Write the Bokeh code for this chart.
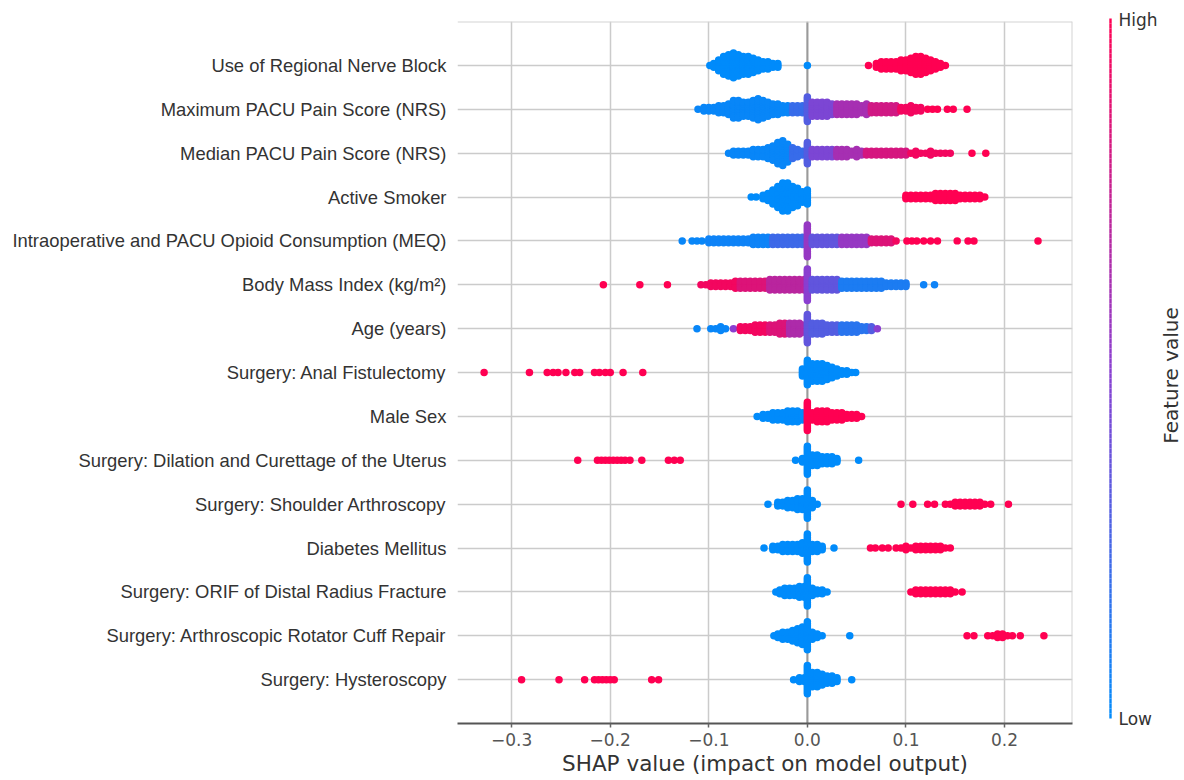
import numpy as np
from bokeh.plotting import figure
from bokeh.models import Range1d, FixedTicker, Span, CustomJSTickFormatter, ColumnDataSource, Label
from bokeh.layouts import row
from bokeh.embed import file_html
from bokeh.resources import INLINE

# ---------------- data ----------------
features = [
    "Use of Regional Nerve Block",
    "Maximum PACU Pain Score (NRS)",
    "Median PACU Pain Score (NRS)",
    "Active Smoker",
    "Intraoperative and PACU Opioid Consumption (MEQ)",
    "Body Mass Index (kg/m\u00b2)",
    "Age (years)",
    "Surgery: Anal Fistulectomy",
    "Male Sex",
    "Surgery: Dilation and Curettage of the Uterus",
    "Surgery: Shoulder Arthroscopy",
    "Diabetes Mellitus",
    "Surgery: ORIF of Distal Radius Fracture",
    "Surgery: Arthroscopic Rotator Cuff Repair",
    "Surgery: Hysteroscopy",
]
x_ticks = [-0.3, -0.2, -0.1, 0.0, 0.1, 0.2]
cbar_labels = ["Low", "High"]

# binned SHAP values: bin centre, number of points in the bin, feature value (0 low .. 1 high)
nerve_low_shap = [-0.099, -0.095, -0.090, -0.085, -0.080, -0.075, -0.070, -0.065, -0.060, -0.055,
                  -0.050, -0.045, -0.040, -0.035, -0.030, 0.000]
nerve_low_count = [1, 3, 7, 11, 13, 15, 13, 11, 11, 9, 7, 5, 5, 3, 3, 1]
nerve_high_shap = [0.062, 0.070, 0.075, 0.080, 0.085, 0.090, 0.095, 0.100, 0.105, 0.110,
                   0.115, 0.120, 0.125, 0.130, 0.135, 0.140]
nerve_high_count = [1, 3, 5, 5, 5, 5, 7, 7, 9, 11, 11, 9, 7, 5, 3, 1]

maxpain_shap = [-0.111, -0.105, -0.100, -0.095, -0.090, -0.085, -0.080, -0.075, -0.070, -0.065,
                -0.060, -0.055, -0.050, -0.045, -0.040, -0.035, -0.030, -0.025, -0.020, -0.015,
                -0.010, -0.005, 0.000, 0.005, 0.010, 0.015, 0.020, 0.025, 0.030, 0.035,
                0.040, 0.045, 0.050, 0.055, 0.060, 0.065, 0.070, 0.075, 0.080, 0.085,
                0.090, 0.095, 0.100, 0.105, 0.110, 0.115, 0.122, 0.127, 0.132, 0.142,
                0.148, 0.162]
maxpain_count = [1, 3, 3, 3, 5, 5, 7, 11, 11, 9,
                 9, 11, 13, 11, 9, 7, 7, 5, 5, 5,
                 5, 5, 15, 9, 9, 9, 9, 7, 7, 7,
                 7, 7, 7, 5, 7, 5, 5, 5, 5, 5,
                 5, 3, 3, 5, 3, 3, 1, 1, 1, 1,
                 1, 1]
maxpain_value = [0.03, 0.03, 0.03, 0.03, 0.03, 0.03, 0.03, 0.03, 0.03, 0.03,
                 0.03, 0.03, 0.03, 0.03, 0.03, 0.03, 0.03, 0.03, 0.03, 0.2,
                 0.2, 0.2, 0.3, 0.45, 0.45, 0.45, 0.45, 0.45, 0.62, 0.62,
                 0.62, 0.62, 0.62, 0.62, 0.62, 0.8, 0.8, 0.8, 0.8, 0.8,
                 0.8, 0.95, 0.95, 0.95, 0.95, 0.95, 1.0, 1.0, 1.0, 1.0,
                 1.0, 1.0]

medpain_shap = [-0.080, -0.075, -0.070, -0.065, -0.060, -0.055, -0.050, -0.045, -0.040, -0.035,
                -0.030, -0.025, -0.020, -0.015, -0.010, -0.005, 0.000, 0.005, 0.010, 0.015,
                0.020, 0.025, 0.030, 0.035, 0.040, 0.045, 0.050, 0.055, 0.060, 0.065,
                0.070, 0.075, 0.080, 0.085, 0.090, 0.095, 0.100, 0.105, 0.110, 0.115,
                0.120, 0.125, 0.130, 0.135, 0.140, 0.145, 0.167, 0.181]
medpain_count = [1, 3, 3, 3, 3, 5, 5, 5, 7, 9,
                 13, 15, 11, 7, 5, 3, 13, 5, 5, 5,
                 5, 5, 5, 5, 5, 3, 5, 3, 3, 3,
                 3, 3, 3, 3, 3, 3, 3, 1, 3, 1,
                 1, 3, 1, 1, 1, 1, 1, 1]
medpain_value = [0.03, 0.03, 0.03, 0.03, 0.03, 0.03, 0.03, 0.03, 0.03, 0.03,
                 0.03, 0.03, 0.03, 0.2, 0.2, 0.2, 0.3, 0.45, 0.45, 0.45,
                 0.45, 0.45, 0.62, 0.62, 0.62, 0.62, 0.62, 0.62, 0.82, 0.82,
                 0.82, 0.82, 0.82, 0.82, 0.82, 0.82, 0.82, 0.95, 0.95, 0.95,
                 0.95, 0.95, 0.95, 0.95, 0.95, 0.95, 1.0, 1.0]

smoker_low_shap = [-0.057, -0.052, -0.045, -0.040, -0.035, -0.030, -0.025, -0.020, -0.015, -0.010,
                   -0.005, 0.000]
smoker_low_count = [1, 1, 3, 5, 9, 13, 17, 17, 13, 11, 7, 9]
smoker_high_shap = [0.100, 0.105, 0.110, 0.115, 0.120, 0.125, 0.130, 0.135, 0.140, 0.145,
                    0.150, 0.155, 0.160, 0.165, 0.170, 0.175, 0.180]
smoker_high_count = [3, 3, 3, 3, 3, 3, 5, 5, 5, 5, 5, 3, 3, 3, 3, 3, 1]

opioid_shap = [-0.127, -0.117, -0.112, -0.107, -0.100, -0.095, -0.090, -0.085, -0.080, -0.075,
               -0.070, -0.065, -0.060, -0.055, -0.050, -0.045, -0.040, -0.035, -0.030, -0.025,
               -0.020, -0.015, -0.010, -0.005, 0.000, 0.005, 0.010, 0.015, 0.020, 0.025,
               0.030, 0.035, 0.040, 0.045, 0.050, 0.055, 0.060, 0.065, 0.070, 0.075,
               0.080, 0.085, 0.090, 0.101, 0.106, 0.111, 0.118, 0.125, 0.132, 0.152,
               0.163, 0.169, 0.234]
opioid_count = [1, 1, 1, 1, 3, 3, 3, 3, 3, 3,
                3, 3, 3, 5, 5, 5, 5, 5, 5, 5,
                5, 5, 5, 5, 19, 5, 5, 5, 5, 5,
                5, 5, 5, 5, 5, 5, 5, 3, 3, 3,
                3, 3, 1, 1, 1, 1, 1, 1, 1, 1,
                1, 1, 1]
opioid_value = [0.03, 0.03, 0.03, 0.03, 0.05, 0.05, 0.05, 0.05, 0.05, 0.05,
                0.05, 0.05, 0.05, 0.05, 0.05, 0.05, 0.05, 0.22, 0.22, 0.22,
                0.22, 0.22, 0.22, 0.22, 0.55, 0.35, 0.35, 0.35, 0.35, 0.35,
                0.35, 0.55, 0.55, 0.55, 0.55, 0.55, 0.55, 0.85, 0.85, 0.85,
                0.85, 0.85, 0.95, 1.0, 1.0, 1.0, 1.0, 1.0, 1.0, 1.0,
                1.0, 1.0, 1.0]

bmi_shap = [-0.207, -0.170, -0.142, -0.108, -0.103, -0.098, -0.093, -0.088, -0.083, -0.078,
            -0.073, -0.068, -0.063, -0.058, -0.053, -0.048, -0.043, -0.038, -0.033, -0.028,
            -0.023, -0.018, -0.013, -0.008, -0.003, 0.000, 0.005, 0.010, 0.015, 0.020,
            0.025, 0.030, 0.035, 0.040, 0.045, 0.050, 0.055, 0.060, 0.065, 0.070,
            0.075, 0.080, 0.085, 0.090, 0.095, 0.100, 0.118, 0.129]
bmi_count = [1, 1, 1, 1, 1, 3, 3, 3, 3, 3,
             5, 5, 5, 5, 5, 5, 5, 7, 7, 7,
             7, 7, 7, 7, 7, 19, 7, 7, 7, 7,
             7, 7, 5, 5, 5, 5, 5, 5, 5, 5,
             5, 3, 3, 3, 3, 3, 1, 1]
bmi_value = [1.0, 1.0, 1.0, 0.95, 0.95, 0.95, 0.95, 0.95, 0.95, 0.95,
             0.95, 0.85, 0.85, 0.85, 0.85, 0.85, 0.85, 0.7, 0.7, 0.7,
             0.7, 0.7, 0.7, 0.7, 0.7, 0.5, 0.35, 0.35, 0.35, 0.35,
             0.35, 0.35, 0.1, 0.1, 0.1, 0.1, 0.1, 0.1, 0.1, 0.1,
             0.1, 0.1, 0.1, 0.1, 0.1, 0.1, 0.05, 0.05]

age_shap = [-0.112, -0.098, -0.093, -0.088, -0.083, -0.075, -0.068, -0.063, -0.058, -0.053,
            -0.048, -0.043, -0.038, -0.033, -0.028, -0.023, -0.018, -0.013, -0.008, -0.003,
            0.000, 0.005, 0.010, 0.015, 0.020, 0.025, 0.030, 0.035, 0.040, 0.045,
            0.050, 0.055, 0.060, 0.065, 0.071]
age_count = [1, 1, 1, 3, 1, 1, 3, 3, 3, 5,
             5, 5, 5, 5, 7, 7, 7, 7, 7, 5,
             17, 7, 7, 7, 5, 5, 5, 5, 5, 5,
             5, 3, 3, 3, 1]
age_value = [0.03, 0.03, 0.03, 0.03, 0.03, 0.5, 0.95, 0.95, 0.95, 0.95,
             0.95, 0.95, 0.85, 0.85, 0.85, 0.85, 0.65, 0.65, 0.65, 0.65,
             0.35, 0.3, 0.3, 0.3, 0.3, 0.3, 0.3, 0.15, 0.15, 0.15,
             0.15, 0.15, 0.15, 0.3, 0.5]

fistula_low_shap = [-0.005, 0.000, 0.005, 0.010, 0.015, 0.020, 0.025, 0.030, 0.035, 0.040,
                    0.045, 0.049]
fistula_low_count = [5, 15, 11, 11, 11, 9, 7, 5, 3, 3, 1, 1]
fistula_high_shap = [-0.328, -0.282, -0.264, -0.258, -0.253, -0.245, -0.236, -0.231, -0.216, -0.211,
                     -0.205, -0.200, -0.187, -0.167]
fistula_high_count = [1, 1, 1, 1, 1, 1, 1, 1, 1, 1, 1, 1, 1, 1]

male_low_shap = [-0.051, -0.045, -0.040, -0.035, -0.030, -0.025, -0.020, -0.015, -0.010, -0.005]
male_low_count = [1, 3, 3, 5, 5, 5, 7, 7, 7, 5]
male_high_shap = [0.000, 0.005, 0.010, 0.015, 0.020, 0.025, 0.030, 0.035, 0.040, 0.045,
                  0.050, 0.055]
male_high_count = [17, 5, 7, 7, 7, 5, 5, 5, 3, 3, 3, 1]

dc_low_shap = [-0.012, -0.005, 0.000, 0.005, 0.010, 0.015, 0.020, 0.025, 0.030, 0.052]
dc_low_count = [1, 3, 17, 7, 7, 5, 5, 5, 3, 1]
dc_high_shap = [-0.233, -0.213, -0.209, -0.205, -0.201, -0.197, -0.193, -0.189, -0.185, -0.180,
                -0.168, -0.141, -0.135, -0.129]
dc_high_count = [1, 1, 1, 1, 1, 1, 1, 1, 1, 1, 1, 1, 1, 1]

shoulder_low_shap = [-0.040, -0.030, -0.025, -0.020, -0.015, -0.010, -0.005, 0.000, 0.005, 0.010]
shoulder_low_count = [1, 3, 3, 5, 5, 7, 7, 17, 5, 1]
shoulder_high_shap = [0.095, 0.107, 0.122, 0.129, 0.140, 0.145, 0.150, 0.155, 0.160, 0.165,
                      0.170, 0.175, 0.180, 0.186, 0.204]
shoulder_high_count = [1, 1, 1, 1, 1, 1, 3, 3, 3, 3, 3, 3, 1, 1, 1]

diabetes_low_shap = [-0.044, -0.035, -0.030, -0.025, -0.020, -0.015, -0.010, -0.005, 0.000, 0.005,
                     0.010, 0.015, 0.027]
diabetes_low_count = [1, 3, 3, 5, 5, 5, 5, 7, 17, 5, 5, 3, 1]
diabetes_high_shap = [0.064, 0.069, 0.076, 0.082, 0.090, 0.095, 0.100, 0.105, 0.110, 0.115,
                      0.120, 0.125, 0.130, 0.135, 0.140, 0.145]
diabetes_high_count = [1, 1, 1, 1, 1, 1, 3, 1, 3, 3, 3, 3, 3, 3, 1, 1]

orif_low_shap = [-0.032, -0.028, -0.023, -0.018, -0.013, -0.008, -0.003, 0.000, 0.005, 0.010,
                 0.015, 0.020]
orif_low_count = [1, 3, 5, 5, 5, 7, 7, 17, 5, 3, 3, 1]
orif_high_shap = [0.105, 0.110, 0.115, 0.120, 0.125, 0.130, 0.135, 0.140, 0.145, 0.150, 0.157]
orif_high_count = [1, 3, 3, 3, 3, 3, 3, 3, 3, 1, 1]

cuff_low_shap = [-0.034, -0.030, -0.025, -0.020, -0.015, -0.010, -0.005, 0.000, 0.005, 0.010,
                 0.015, 0.043]
cuff_low_count = [1, 3, 5, 5, 7, 9, 11, 17, 5, 3, 1, 1]
cuff_high_shap = [0.162, 0.169, 0.183, 0.188, 0.193, 0.198, 0.203, 0.208, 0.216, 0.240]
cuff_high_count = [1, 1, 1, 1, 3, 3, 1, 1, 1, 1]

hyst_low_shap = [-0.014, -0.008, -0.003, 0.000, 0.005, 0.010, 0.015, 0.020, 0.025, 0.030, 0.045]
hyst_low_count = [1, 3, 3, 17, 9, 9, 7, 5, 5, 3, 1]
hyst_high_shap = [-0.290, -0.252, -0.226, -0.216, -0.212, -0.208, -0.204, -0.200, -0.196, -0.158,
                  -0.151]
hyst_high_count = [1, 1, 1, 1, 1, 1, 1, 1, 1, 1, 1]

# ---------------- colours ----------------
BLUE = (0, 139, 251)
PURPLE = (138, 62, 208)
RED = (255, 0, 82)


def shap_color(v):
    if v <= 0.5:
        a, b, t = BLUE, PURPLE, v / 0.5
    else:
        a, b, t = PURPLE, RED, (v - 0.5) / 0.5
    r, g, bb = (int(round(a[k] + (b[k] - a[k]) * t)) for k in range(3))
    return "#%02x%02x%02x" % (r, g, bb)


# ---------------- beeswarm layout ----------------
STEP = 0.04  # vertical spacing of stacked points, in row units
xs, ys, cols = [], [], []


def add(i, shap, count, vals):
    base = len(features) - 1 - i
    for s, n, v in zip(shap, count, vals):
        for j in range(n):
            k = (j + 1) // 2 * (1 if j % 2 else -1)
            xs.append(s)
            ys.append(base + k * STEP)
            cols.append(shap_color(v))


def add_binary(i, low_shap, low_count, high_shap, high_count):
    add(i, low_shap, low_count, [0.0] * len(low_shap))
    add(i, high_shap, high_count, [1.0] * len(high_shap))


add_binary(0, nerve_low_shap, nerve_low_count, nerve_high_shap, nerve_high_count)
add(1, maxpain_shap, maxpain_count, maxpain_value)
add(2, medpain_shap, medpain_count, medpain_value)
add_binary(3, smoker_low_shap, smoker_low_count, smoker_high_shap, smoker_high_count)
add(4, opioid_shap, opioid_count, opioid_value)
add(5, bmi_shap, bmi_count, bmi_value)
add(6, age_shap, age_count, age_value)
add_binary(7, fistula_low_shap, fistula_low_count, fistula_high_shap, fistula_high_count)
add_binary(8, male_low_shap, male_low_count, male_high_shap, male_high_count)
add_binary(9, dc_low_shap, dc_low_count, dc_high_shap, dc_high_count)
add_binary(10, shoulder_low_shap, shoulder_low_count, shoulder_high_shap, shoulder_high_count)
add_binary(11, diabetes_low_shap, diabetes_low_count, diabetes_high_shap, diabetes_high_count)
add_binary(12, orif_low_shap, orif_low_count, orif_high_shap, orif_high_count)
add_binary(13, cuff_low_shap, cuff_low_count, cuff_high_shap, cuff_high_count)
add_binary(14, hyst_low_shap, hyst_low_count, hyst_high_shap, hyst_high_count)

# ---------------- main figure ----------------
XMIN, XMAX = -0.355, 0.269
YMIN, YMAX = -1.0, 15.0
FRAME_TOP, FRAME_BOTTOM = 21, 723
p = figure(width=1084, height=780,
           x_range=Range1d(XMIN, XMAX), y_range=Range1d(YMIN, YMAX),
           min_border_left=457, min_border_right=12, min_border_top=FRAME_TOP,
           min_border_bottom=780 - FRAME_BOTTOM,
           output_backend="svg", toolbar_location=None)
p.outline_line_color = None
p.background_fill_color = "white"
p.border_fill_color = "white"

row_ticks = list(range(len(features)))
p.yaxis.ticker = FixedTicker(ticks=row_ticks)
p.yaxis.major_label_overrides = {len(features) - 1 - i: f for i, f in enumerate(features)}
p.yaxis.axis_line_color = None
p.yaxis.major_tick_line_color = None
p.yaxis.minor_tick_line_color = None
p.yaxis.major_tick_out = 0
p.yaxis.major_label_standoff = 11
p.yaxis.major_label_text_font = "Liberation Sans"
p.yaxis.major_label_text_font_size = "18.4px"
p.yaxis.major_label_text_color = "#333333"

p.xaxis.ticker = FixedTicker(ticks=x_ticks)
p.xaxis.formatter = CustomJSTickFormatter(
    code="return (tick < 0 ? '\u2212' : '') + Math.abs(tick).toFixed(1);")
p.xaxis.axis_label = "SHAP value (impact on model output)"
p.xaxis.axis_label_text_font = "DejaVu Sans"
p.xaxis.axis_label_text_font_size = "21.5px"
p.xaxis.axis_label_text_font_style = "normal"
p.xaxis.axis_label_text_color = "#333333"
p.xaxis.axis_label_standoff = 2
p.xaxis.major_label_text_font = "DejaVu Sans"
p.xaxis.major_label_text_font_size = "17px"
p.xaxis.major_label_text_color = "#555555"
p.xaxis.major_label_standoff = 5
p.xaxis.axis_line_color = "#555555"
p.xaxis.axis_line_width = 2
p.xaxis.major_tick_line_color = "#666666"
p.xaxis.major_tick_line_width = 1.5
p.xaxis.major_tick_in = 0
p.xaxis.major_tick_out = 4
p.xaxis.minor_tick_line_color = None

p.xgrid.ticker = FixedTicker(ticks=x_ticks)
p.ygrid.ticker = FixedTicker(ticks=row_ticks)
for g in (p.xgrid, p.ygrid):
    g.grid_line_color = "#cbcbcb"
    g.grid_line_width = 1.5

zero = Span(location=0, dimension="height", line_color="#9a9a9a", line_width=2, level="underlay")
top_edge = Span(location=YMAX, dimension="width", line_color="#d4d4d4", line_width=2, level="underlay")
right_edge = Span(location=XMAX, dimension="height", line_color="#d4d4d4", line_width=2, level="underlay")
p.add_layout(zero)
p.add_layout(top_edge)
p.add_layout(right_edge)

src = ColumnDataSource(dict(x=xs, y=ys, c=cols))
p.scatter("x", "y", source=src, size=7.5, fill_color="c", line_color=None)

# ---------------- colour bar (own frame covering its whole canvas) ----------------
cb = figure(width=100, height=780, x_range=Range1d(0, 100), y_range=Range1d(780, 0),
            min_border=0, x_axis_location=None, y_axis_location=None,
            output_backend="svg", toolbar_location=None)
aligned = True
try:
    cb.frame_align = False
    p.frame_align = False
    aligned = False
except Exception:
    pass
if aligned:
    cb.min_border_top = FRAME_TOP
    cb.min_border_bottom = 780 - FRAME_BOTTOM
    cb.y_range = Range1d(FRAME_BOTTOM, FRAME_TOP)
cb.outline_line_color = None
cb.grid.visible = False
BAR_TOP, BAR_BOTTOM, BAR_X = 18, 718, 26
edges = np.linspace(BAR_BOTTOM, BAR_TOP, 141)
t = (np.arange(140) + 0.5) / 140
cb.quad(left=BAR_X - 1.2, right=BAR_X + 1.2, bottom=edges[:-1], top=edges[1:],
        fill_color=[shap_color(v) for v in t], line_color=None)
for txt, yy in zip(cbar_labels, [BAR_BOTTOM, BAR_TOP + 1]):
    cb.add_layout(Label(x=BAR_X + 8, y=yy, text=txt, text_font="DejaVu Sans",
                        text_font_size="17px", text_color="#333333",
                        text_align="left", text_baseline="middle"))
cb.add_layout(Label(x=86, y=375, text="Feature value", angle=np.pi / 2,
                    text_font="DejaVu Sans", text_font_size="20px", text_color="#333333",
                    text_align="center", text_baseline="middle"))

layout = row(p, cb)
open("out.html", "w").write(file_html(layout, INLINE))
